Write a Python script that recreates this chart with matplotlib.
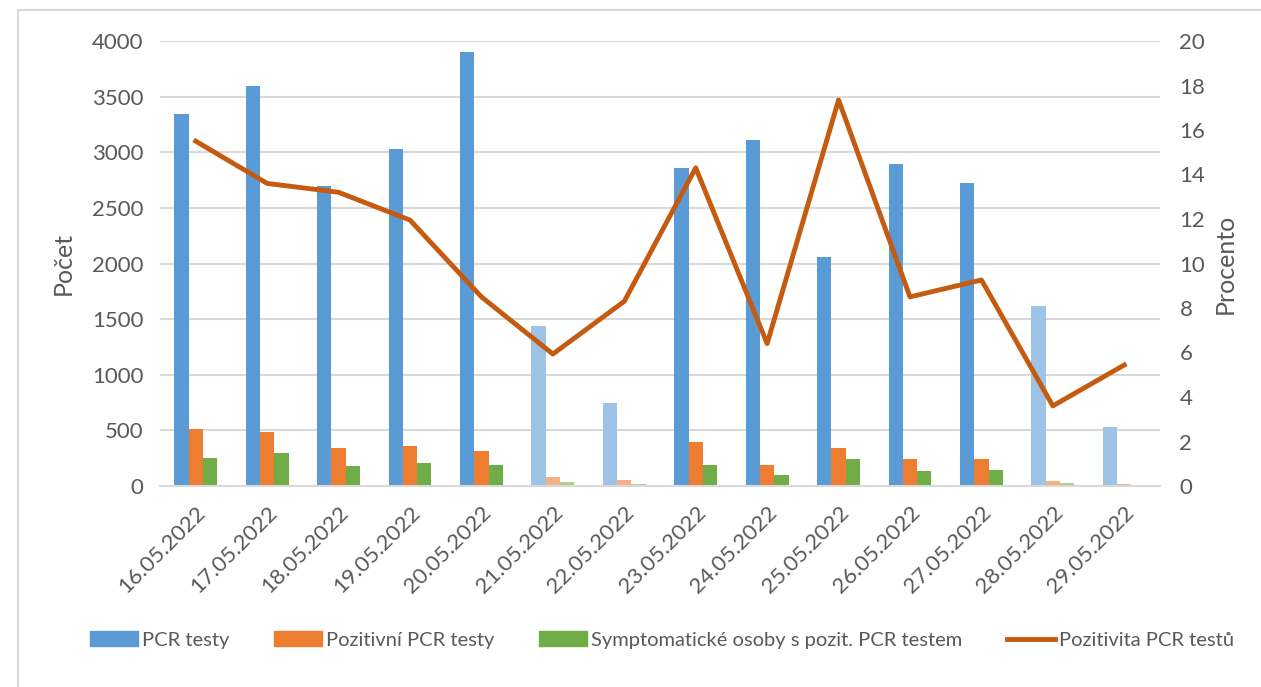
import matplotlib
matplotlib.use("Agg")
import matplotlib.pyplot as plt
from matplotlib.patches import Rectangle
import numpy as np

plt.rcParams['font.family'] = ['Lato', 'DejaVu Sans']

dates = ["16.05.2022", "17.05.2022", "18.05.2022", "19.05.2022", "20.05.2022",
         "21.05.2022", "22.05.2022", "23.05.2022", "24.05.2022", "25.05.2022",
         "26.05.2022", "27.05.2022", "28.05.2022", "29.05.2022"]
pcr_testy = [3340, 3600, 2700, 3025, 3900, 1440, 750, 2860, 3110, 2060, 2890, 2720, 1620, 530]
pozitivni = [515, 485, 345, 358, 315, 82, 58, 400, 188, 345, 240, 240, 45, 18]
symptomaticke = [252, 294, 176, 209, 188, 36, 18, 188, 103, 243, 133, 145, 27, 5]
pozitivita = [15.5, 13.6, 13.2, 11.95, 8.5, 5.93, 8.3, 14.3, 6.4, 17.35, 8.5, 9.26, 3.6, 5.44]
weekend = [False, False, False, False, False, True, True,
           False, False, False, False, False, True, True]

c_blue, c_blue_l = "#5B9BD5", "#9DC3E6"
c_orange, c_orange_l = "#ED7D31", "#F4B183"
c_green, c_green_l = "#70AD47", "#A9D18E"
c_line = "#C55A11"
txt = "#595959"

fig = plt.figure(figsize=(12.61, 6.87), dpi=100)
# light frame of the chart area
fig.patches.append(Rectangle((18 / 1261, -0.1), 1.2, 0.1 + 1 - 10 / 687,
                             transform=fig.transFigure, fill=False,
                             edgecolor="#D9D9D9", linewidth=1.5))
ax = fig.add_axes([160 / 1261, 1 - 486 / 687, 1000 / 1261, 445 / 687])

x = np.arange(len(dates))
w = 0.2
ax.bar(x - w, pcr_testy, w, color=[c_blue_l if we else c_blue for we in weekend],
       label="PCR testy", zorder=2)
ax.bar(x, pozitivni, w, color=[c_orange_l if we else c_orange for we in weekend],
       label="Pozitivní PCR testy", zorder=2)
ax.bar(x + w, symptomaticke, w, color=[c_green_l if we else c_green for we in weekend],
       label="Symptomatické osoby s pozit. PCR testem", zorder=2)

ax.set_xlim(-0.5, len(dates) - 0.5)
ax.set_ylim(0, 4000)
ax.set_yticks(range(0, 4001, 500))
ax.yaxis.grid(True, color="#D9D9D9", linewidth=1.5, zorder=0)
ax.set_axisbelow(True)
for s in ["top", "right", "left"]:
    ax.spines[s].set_visible(False)
ax.spines["bottom"].set_color("#D9D9D9")
ax.spines["bottom"].set_linewidth(1.5)
ax.tick_params(length=0, labelsize=16, colors=txt, pad=12)
ax.set_xticks(x)
ax.set_xticklabels(dates, rotation=45, ha="right", rotation_mode="anchor", fontsize=16)
ax.set_ylabel("Počet", fontsize=18, color=txt, labelpad=12)

ax2 = ax.twinx()
ax2.plot(x, pozitivita, color=c_line, linewidth=3.5, label="Pozitivita PCR testů", zorder=3)
ax2.set_ylim(0, 20)
ax2.set_yticks(range(0, 21, 2))
for s in ["top", "right", "left", "bottom"]:
    ax2.spines[s].set_visible(False)
ax2.tick_params(length=0, labelsize=16, colors=txt, pad=14)
ax2.set_ylabel("Procento", fontsize=18, color=txt, labelpad=6)

h1, l1 = ax.get_legend_handles_labels()
h2, l2 = ax2.get_legend_handles_labels()
leg = fig.legend(h1 + h2, l1 + l2, loc="center", bbox_to_anchor=(0.525, 1 - 640 / 687),
                 ncol=4, frameon=False, fontsize=14.5, handlelength=2.4,
                 handletextpad=0.2, columnspacing=2.2)
for t in leg.get_texts():
    t.set_color(txt)
for hnd, c in zip(leg.legend_handles[:3], [c_blue, c_orange, c_green]):
    hnd.set_color(c)

fig.savefig("out.png", dpi=100)
